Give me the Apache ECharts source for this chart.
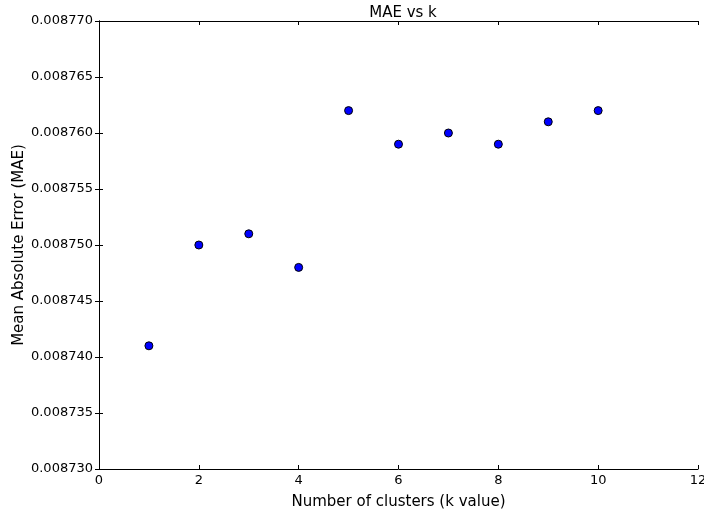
<!DOCTYPE html>
<html>
<head>
<meta charset="utf-8">
<script src="https://cdn.jsdelivr.net/npm/echarts@6/dist/echarts.min.js"></script>
<style>
  html, body { margin: 0; padding: 0; background: #fff; }
  #chart { width: 704px; height: 513px; }
</style>
</head>
<body>
<div id="chart"></div>
<script>
// k values and the MAE
var kValues = [1, 2, 3, 4, 5, 6, 7, 8, 9, 10];
var maeValues = [0.008741, 0.008750, 0.008751, 0.008748, 0.008762,
                 0.008759, 0.008760, 0.008759, 0.008761, 0.008762];

var points = kValues.map(function (k, i) { return [k, maeValues[i]]; });

var font = 'DejaVu Sans';
var frame = { lineStyle: { color: '#000', width: 1 } };
var innerTick = { show: true, inside: true, length: 4, lineStyle: { color: '#000' } };

var chart = echarts.init(document.getElementById('chart'));
chart.setOption({
  animation: false,
  title: {
    text: 'MAE vs k',
    left: 398, top: 1, textAlign: 'center',
    textStyle: { fontFamily: font, fontSize: 15, fontWeight: 'normal', color: '#000' }
  },
  grid: { left: 99, top: 21, right: 6, bottom: 44, outerBoundsMode: 'none' },
  xAxis: [{
    type: 'value', min: 0, max: 12, interval: 2,
    name: 'Number of clusters (k value)', nameLocation: 'middle', nameGap: 26,
    nameMoveOverlap: false,
    nameTextStyle: { fontFamily: font, fontSize: 15, color: '#000' },
    axisLine: frame, axisTick: innerTick,
    axisLabel: { fontFamily: font, fontSize: 13, color: '#000', margin: 5 },
    splitLine: { show: false }
  }, {
    type: 'value', min: 0, max: 12, interval: 2, position: 'top',
    axisLine: frame, axisTick: innerTick, axisLabel: { show: false },
    splitLine: { show: false }
  }],
  yAxis: [{
    type: 'value', min: 0.00873, max: 0.00877, interval: 0.000005,
    name: 'Mean Absolute Error (MAE)', nameLocation: 'middle', nameGap: 72,
    nameMoveOverlap: false,
    nameTextStyle: { fontFamily: font, fontSize: 15, color: '#000' },
    axisLine: frame, axisTick: innerTick,
    axisLabel: {
      fontFamily: font, fontSize: 13, color: '#000', margin: 6,
      formatter: function (v) { return v.toFixed(6); }
    },
    splitLine: { show: false }
  }, {
    type: 'value', min: 0.00873, max: 0.00877, interval: 0.000005, position: 'right',
    axisLine: frame, axisTick: innerTick, axisLabel: { show: false },
    splitLine: { show: false }
  }],
  series: [{
    type: 'scatter',
    data: points,
    symbol: 'circle',
    symbolSize: 8,
    itemStyle: { color: '#0000ff', borderColor: '#000', borderWidth: 1, opacity: 1 }
  }]
});
</script>
</body>
</html>
